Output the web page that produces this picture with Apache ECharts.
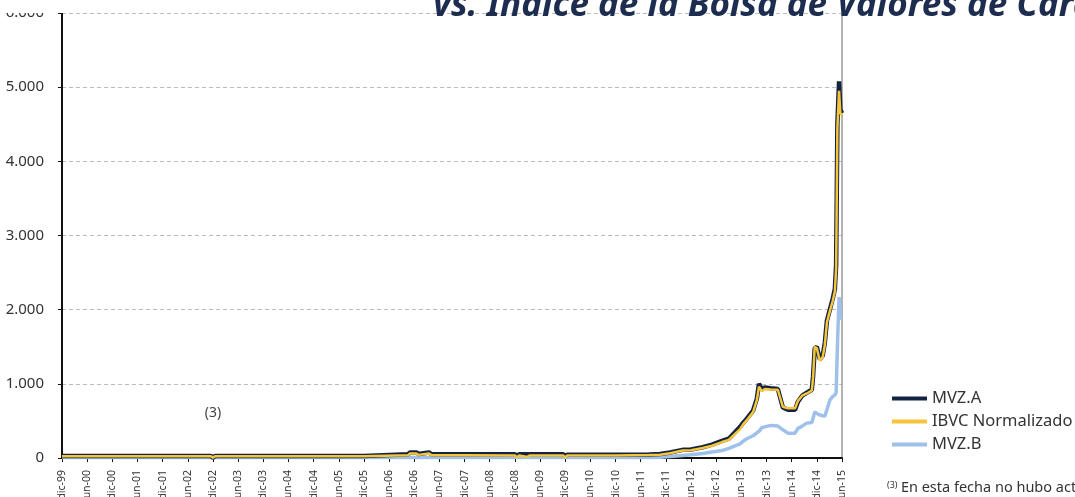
<!DOCTYPE html>
<html>
<head>
<meta charset="utf-8">
<script src="https://cdn.jsdelivr.net/npm/echarts@6/dist/echarts.min.js"></script>
<style>
    html, body { margin: 0; padding: 0; background: #fff; }
    #main { width: 1075px; height: 497px; }
</style>
</head>
<body>
<div id="main"></div>
<script>
// etiquetas semestrales del eje x (dic-99 .. jun-15)
let tickLabels = ['dic-99','jun-00','dic-00','jun-01','dic-01','jun-02','dic-02','jun-03','dic-03','jun-04',
    'dic-04','jun-05','dic-05','jun-06','dic-06','jun-07','dic-07','jun-08','dic-08','jun-09','dic-09',
    'jun-10','dic-10','jun-11','dic-11','jun-12','dic-12','jun-13','dic-13','jun-14','dic-14','jun-15'];

// meses transcurridos desde dic-99
let meses = [0, 35.5, 36, 36.5, 72, 72.3, 82.5, 83, 84.5, 85, 87.5, 88, 89, 96, 108, 108.5, 109, 111, 111.5,
    114, 114.4, 115, 119.5, 120, 120.5, 132, 140, 142.6, 145, 148, 150, 152.8, 155, 157.4, 159, 161.7,
    162.5, 163.3, 164.8, 165.7, 166.2, 166.9, 167.6, 169, 170.7, 171.9, 173.1, 174.8, 175.5, 176.5, 177.6,
    178.8, 179.1, 179.5, 180, 180.7, 181.4, 181.9, 182.4, 183.1, 183.8, 184.3, 184.6, 184.9, 185.3, 185.6, 186];

let mvzA = [28, 28, 0, 28, 28, 50, 50, 75, 75, 55, 75, 55, 50, 50, 50, 30, 50, 50, 50,
    50, 35, 50, 50, 30, 45, 45, 48, 55, 75, 110, 115, 145, 180, 230, 260, 420,
    480, 530, 640, 800, 1000, 930, 950, 940, 930, 680, 650, 650, 760, 840, 880,
    920, 1100, 1480, 1500, 1330, 1380, 1550, 1850, 2000, 2150, 2280, 2600, 4500, 5080, 4700, 4650];

let ibvc = [25, 25, 5, 25, 25, 35, 38, 62, 62, 42, 62, 42, 38, 38, 35, 5, 35, 15, 35,
    35, 10, 35, 35, 5, 35, 35, 40, 45, 65, 100, 105, 135, 165, 215, 245, 390,
    460, 510, 620, 780, 960, 900, 930, 925, 920, 690, 670, 670, 770, 840, 870,
    910, 1080, 1500, 1480, 1310, 1360, 1520, 1830, 1980, 2120, 2250, 2550, 4450, 4950, 4650, 4620];

let mvzB = [8, 8, 0, 8, 8, 8, 8, 8, 8, 8, 8, 8, 8, 8, 8, 8, 8, 8, 8,
    8, 8, 8, 8, 8, 8, 8, 8, 10, 20, 35, 45, 60, 80, 100, 130, 190,
    230, 260, 300, 340, 360, 410, 420, 440, 430, 380, 335, 335, 400, 430, 470,
    480, 500, 620, 600, 580, 570, 565, 650, 780, 830, 850, 880, 1500, 2170, 1900, 1880];

let seriesNames = ['MVZ.A', 'IBVC Normalizado', 'MVZ.B'];
let seriesColors = ['#14233f', '#f5c53c', '#9fc0ea'];

let font = '"Noto Sans", "Open Sans", sans-serif';
let pair = arr => arr.map((v, i) => [meses[i], v]);

let chart = echarts.init(document.getElementById('main'));
let option = {
    animation: false,
    backgroundColor: '#fff',
    textStyle: { fontFamily: font },
    grid: {
        top: 13,
        left: 62,
        right: 233,
        bottom: 39,
        outerBoundsMode: 'none',
        containLabel: false
    },
    legend: {
        data: seriesNames,
        orient: 'vertical',
        left: 887,
        top: 385,
        icon: 'rect',
        itemWidth: 35,
        itemHeight: 4,
        itemGap: 6,
        textStyle: { fontSize: 16.5, color: '#333', lineHeight: 16, fontFamily: font }
    },
    xAxis: {
        type: 'value',
        min: 0,
        max: 186,
        interval: 6,
        splitLine: { show: false },
        axisLine: { onZero: false, lineStyle: { color: '#111', width: 2 } },
        axisTick: { show: true, length: 4, lineStyle: { color: '#111' } },
        axisLabel: {
            rotate: 90,
            margin: 12,
            fontSize: 10.5,
            color: '#333',
            formatter: v => tickLabels[Math.round(v / 6)] || ''
        }
    },
    yAxis: [
        {
            type: 'value',
            min: 0,
            max: 6000,
            interval: 1000,
            axisLine: { show: true, lineStyle: { color: '#111', width: 2 } },
            axisTick: { show: true, length: 4, lineStyle: { color: '#111' } },
            axisLabel: {
                margin: 18,
                fontSize: 15,
                color: '#333',
                formatter: v => v === 0 ? '0' : (v / 1000) + '.000'
            },
            splitLine: { show: true, lineStyle: { color: '#bdbdbd', type: [4, 3], width: 1 } }
        },
        {
            type: 'value',
            min: 0,
            max: 6000,
            position: 'right',
            axisLine: { show: true, lineStyle: { color: '#9a9a9a', width: 1.5 } },
            axisTick: { show: false },
            axisLabel: { show: false },
            splitLine: { show: false }
        }
    ],
    series: [
        {
            name: seriesNames[0],
            type: 'line',
            symbol: 'none',
            z: 3,
            data: pair(mvzA),
            color: seriesColors[0],
            lineStyle: { width: 4.5, color: seriesColors[0] },
            markPoint: {
                symbol: 'circle',
                symbolSize: 1,
                itemStyle: { color: 'rgba(0,0,0,0)' },
                label: { show: true, position: 'inside', formatter: '(3)', fontSize: 14, color: '#444', fontFamily: font },
                data: [{ coord: [36, 606] }]
            }
        },
        {
            name: seriesNames[1],
            type: 'line',
            symbol: 'none',
            z: 4,
            data: pair(ibvc),
            color: seriesColors[1],
            lineStyle: { width: 2.5, color: seriesColors[1] }
        },
        {
            name: seriesNames[2],
            type: 'line',
            symbol: 'none',
            z: 2,
            data: pair(mvzB),
            color: seriesColors[2],
            lineStyle: { width: 3.5, color: seriesColors[2] }
        }
    ],
    graphic: [
        {
            type: 'rect',
            z: 100,
            shape: { x: 0, y: 0, width: 1075, height: 13 },
            style: { fill: '#fff' }
        },
        {
            type: 'text',
            z: 101,
            x: 433,
            y: 6,
            style: {
                text: 'vs. Índice de la Bolsa de Valores de Caracas',
                fontFamily: font,
                fontSize: 35,
                fontWeight: 'bold',
                fontStyle: 'italic',
                fill: '#1c2d4f',
                verticalAlign: 'middle'
            }
        },
        {
            type: 'text',
            z: 101,
            x: 887,
            y: 488,
            style: {
                text: '{s|(3)} {t|En esta fecha no hubo actividad}',
                verticalAlign: 'middle',
                rich: {
                    s: { fontSize: 9, fill: '#333', fontFamily: font, padding: [0, 0, 6, 0] },
                    t: { fontSize: 14.5, fill: '#333', fontFamily: font }
                }
            }
        }
    ]
};
chart.setOption(option);
</script>
</body>
</html>
